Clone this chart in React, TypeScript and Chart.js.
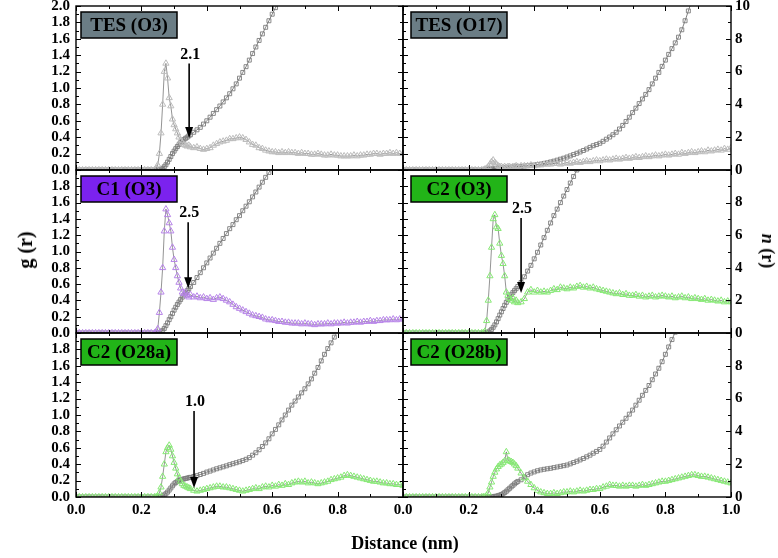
import React, { useEffect, useRef } from 'react';
import { Chart, registerables } from 'chart.js';
Chart.register(...registerables);

// Distance grid (nm)
const R = [
  0, 0.01, 0.02, 0.03, 0.04, 0.05, 0.06, 0.07, 0.08, 0.09,
  0.1, 0.11, 0.12, 0.13, 0.14, 0.15, 0.16, 0.17, 0.18, 0.19,
  0.2, 0.21, 0.22, 0.23, 0.24,
  0.245, 0.25, 0.255, 0.26, 0.265, 0.27, 0.275, 0.28, 0.285, 0.29, 0.295,
  0.3, 0.305, 0.31, 0.315, 0.32, 0.325, 0.33, 0.335, 0.34, 0.345, 0.35,
  0.36, 0.37, 0.38, 0.39, 0.4, 0.41, 0.42, 0.43, 0.44, 0.45,
  0.46, 0.47, 0.48, 0.49, 0.5, 0.51, 0.52, 0.53, 0.54, 0.55,
  0.56, 0.57, 0.58, 0.59, 0.6, 0.61, 0.62, 0.63, 0.64, 0.65,
  0.66, 0.67, 0.68, 0.69, 0.7, 0.71, 0.72, 0.73, 0.74, 0.75,
  0.76, 0.77, 0.78, 0.79, 0.8, 0.81, 0.82, 0.83, 0.84, 0.85,
  0.86, 0.87, 0.88, 0.89, 0.9, 0.91, 0.92, 0.93, 0.94, 0.95,
  0.96, 0.97, 0.98, 0.99, 1.0,
];

// TES (O3)
const G_TES_O3 = [
  0,0,0,0,0, 0,0,0,0,0, 0,0,0,0,0, 0,0,0,0,0, 0,0,0,0,0,
  0.02,0.06,0.2,0.45,0.8,1.2,1.3,1.12,0.88,0.78,0.62,0.55,0.5,0.45,0.4,0.36,0.33,0.31,0.3,0.29,0.3,0.28,
  0.27,0.28,0.26,0.25,0.26,0.27,0.3,0.32,0.34,0.35,
  0.36,0.38,0.38,0.39,0.4,0.39,0.37,0.34,0.31,0.3,
  0.27,0.26,0.24,0.23,0.22,0.22,0.21,0.22,0.21,0.22,
  0.21,0.21,0.2,0.21,0.2,0.2,0.19,0.19,0.2,0.19,
  0.18,0.18,0.19,0.18,0.18,0.17,0.17,0.17,0.17,0.18,
  0.17,0.18,0.18,0.19,0.19,0.2,0.2,0.19,0.2,0.2,
  0.21,0.2,0.21,0.2,0.2,
];
const N_TES_O3 = [
  0,0,0,0,0, 0,0,0,0,0, 0,0,0,0,0, 0,0,0,0,0, 0,0,0,0,0,
  0,0,0.02,0.05,0.1,0.2,0.32,0.48,0.65,0.82,1.0,1.15,1.3,1.43,1.55,1.66,1.76,1.85,1.93,2.0,2.08,2.15,
  2.3,2.45,2.6,2.8,3.0,3.22,3.45,3.68,3.9,4.15,
  4.4,4.65,4.95,5.25,5.6,5.95,6.3,6.7,7.1,7.5,
  7.9,8.3,8.7,9.1,9.5,9.9,10.3,
];

// TES (O17)
const G_TES_O17 = [
  0,0,0,0,0, 0,0,0,0,0, 0,0,0,0,0, 0,0,0,0,0, 0,0,0,0,0,
  0,0.01,0.02,0.04,0.07,0.1,0.12,0.09,0.07,0.05,0.04,0.04,0.03,0.04,0.03,0.04,0.04,0.03,0.04,0.04,0.05,0.04,
  0.05,0.05,0.05,0.06,0.05,0.06,0.06,0.07,0.07,0.07,
  0.08,0.08,0.07,0.08,0.09,0.08,0.09,0.1,0.09,0.1,
  0.11,0.1,0.11,0.12,0.11,0.12,0.13,0.12,0.13,0.14,
  0.13,0.14,0.15,0.14,0.15,0.16,0.15,0.16,0.17,0.16,
  0.17,0.18,0.17,0.18,0.19,0.18,0.19,0.2,0.19,0.21,
  0.2,0.21,0.22,0.21,0.22,0.23,0.22,0.24,0.23,0.24,
  0.25,0.24,0.26,0.25,0.27,
];
const N_TES_O17 = [
  0,0,0,0,0, 0,0,0,0,0, 0,0,0,0,0, 0,0,0,0,0, 0,0,0,0,0,
  0,0.02,0.04,0.05,0.06,0.07,0.08,0.09,0.1,0.1,0.11,0.12,0.12,0.13,0.14,0.15,0.16,0.17,0.18,0.19,0.2,0.21,
  0.22,0.24,0.26,0.28,0.3,0.33,0.36,0.4,0.44,0.49,
  0.54,0.6,0.66,0.72,0.79,0.86,0.94,1.02,1.1,1.19,
  1.28,1.38,1.48,1.55,1.63,1.75,1.88,2.01,2.15,2.3,
  2.5,2.72,2.96,3.22,3.5,3.77,4.05,4.33,4.61,4.9,
  5.25,5.6,5.95,6.32,6.7,7.05,7.4,7.75,8.1,8.55,
  9.1,9.7,10.3,
];

// C1 (O3)
const G_C1_O3 = [
  0,0,0,0,0, 0,0,0,0,0, 0,0,0,0,0, 0,0,0,0,0, 0,0,0,0,0,
  0.01,0.05,0.25,0.5,0.8,1.25,1.52,1.45,1.35,1.25,1.05,0.9,0.8,0.7,0.62,0.55,0.5,0.48,0.5,0.46,0.44,0.47,
  0.44,0.45,0.43,0.44,0.42,0.43,0.41,0.43,0.44,0.42,
  0.4,0.38,0.35,0.32,0.3,0.28,0.26,0.24,0.22,0.21,
  0.2,0.19,0.17,0.16,0.16,0.15,0.14,0.14,0.13,0.13,
  0.12,0.12,0.12,0.11,0.12,0.11,0.11,0.1,0.11,0.11,
  0.11,0.12,0.11,0.12,0.12,0.12,0.13,0.12,0.13,0.13,
  0.14,0.13,0.14,0.14,0.15,0.14,0.15,0.15,0.16,0.16,
  0.16,0.17,0.16,0.17,0.17,
];
const N_C1_O3 = [
  0,0,0,0,0, 0,0,0,0,0, 0,0,0,0,0, 0,0,0,0,0, 0,0,0,0,0,
  0,0,0.03,0.08,0.16,0.28,0.45,0.62,0.82,1.0,1.2,1.4,1.58,1.75,1.9,2.05,2.2,2.33,2.46,2.6,2.72,2.85,
  3.1,3.4,3.7,4.0,4.3,4.6,4.9,5.2,5.5,5.8,
  6.1,6.4,6.65,6.95,7.2,7.5,7.78,8.05,8.35,8.65,
  8.95,9.25,9.55,9.85,10.15,
];

// C2 (O3)
const G_C2_O3 = [
  0,0,0,0,0, 0,0,0,0,0, 0,0,0,0,0, 0,0,0,0,0, 0,0,0,0,0,
  0,0.02,0.15,0.4,0.7,1.05,1.4,1.45,1.3,1.28,1.1,0.95,0.85,0.7,0.5,0.46,0.42,0.4,0.43,0.38,0.4,0.37,
  0.38,0.42,0.5,0.53,0.5,0.52,0.5,0.51,0.5,0.52,
  0.54,0.53,0.56,0.55,0.54,0.56,0.55,0.57,0.58,0.56,
  0.57,0.55,0.56,0.54,0.53,0.52,0.51,0.5,0.49,0.48,
  0.49,0.47,0.48,0.46,0.46,0.47,0.45,0.46,0.44,0.45,
  0.46,0.44,0.45,0.46,0.45,0.44,0.45,0.43,0.44,0.45,
  0.43,0.44,0.42,0.43,0.42,0.41,0.42,0.4,0.41,0.4,
  0.39,0.4,0.38,0.39,0.38,
];
const N_C2_O3 = [
  0,0,0,0,0, 0,0,0,0,0, 0,0,0,0,0, 0,0,0,0,0, 0,0,0,0,0,
  0,0,0.02,0.06,0.13,0.22,0.35,0.5,0.68,0.88,1.1,1.3,1.5,1.7,1.88,2.05,2.2,2.35,2.48,2.6,2.72,2.85,
  3.1,3.45,3.8,4.15,4.55,4.95,5.4,5.85,6.3,6.75,
  7.2,7.6,8.0,8.4,8.8,9.2,9.6,10.0,10.4,
];

// C2 (O28a)
const G_C2_O28A = [
  0,0,0,0,0, 0,0,0,0,0, 0,0,0,0,0, 0,0,0,0,0, 0,0,0,0,0,
  0,0.01,0.05,0.12,0.25,0.4,0.55,0.6,0.63,0.58,0.5,0.42,0.35,0.28,0.23,0.19,0.16,0.14,0.13,0.12,0.11,0.1,
  0.08,0.07,0.08,0.09,0.1,0.11,0.12,0.13,0.13,0.12,
  0.12,0.11,0.1,0.09,0.08,0.07,0.08,0.09,0.1,0.11,
  0.1,0.12,0.13,0.12,0.14,0.13,0.15,0.14,0.16,0.15,
  0.17,0.18,0.19,0.18,0.19,0.17,0.18,0.17,0.16,0.17,
  0.18,0.19,0.21,0.22,0.23,0.24,0.26,0.27,0.26,0.25,
  0.24,0.23,0.22,0.21,0.2,0.19,0.19,0.18,0.17,0.17,
  0.16,0.16,0.15,0.15,0.14,
];
const N_C2_O28A = [
  0,0,0,0,0, 0,0,0,0,0, 0,0,0,0,0, 0,0,0,0,0, 0,0,0,0,0,
  0,0,0.01,0.03,0.07,0.13,0.2,0.3,0.42,0.55,0.68,0.8,0.88,0.95,1.0,1.04,1.08,1.1,1.13,1.15,1.18,1.2,
  1.25,1.3,1.37,1.44,1.52,1.58,1.65,1.72,1.78,1.84,
  1.9,1.97,2.03,2.09,2.15,2.22,2.3,2.4,2.55,2.7,
  2.88,3.08,3.3,3.55,3.85,4.12,4.4,4.7,5.0,5.3,
  5.6,5.85,6.1,6.35,6.6,6.9,7.2,7.55,7.9,8.3,
  8.7,9.05,9.4,9.75,10.1,
];

// C2 (O28b)
const G_C2_O28B = [
  0,0,0,0,0, 0,0,0,0,0, 0,0,0,0,0, 0,0,0,0,0, 0,0,0,0,0,
  0,0,0.02,0.05,0.12,0.18,0.25,0.3,0.34,0.37,0.39,0.4,0.42,0.44,0.55,0.45,0.44,0.43,0.42,0.4,0.38,0.35,
  0.29,0.23,0.19,0.15,0.11,0.08,0.06,0.05,0.04,0.04,
  0.05,0.04,0.05,0.06,0.06,0.07,0.06,0.07,0.08,0.07,
  0.08,0.09,0.09,0.1,0.1,0.12,0.13,0.15,0.14,0.14,
  0.13,0.14,0.13,0.14,0.14,0.13,0.14,0.15,0.14,0.15,
  0.16,0.17,0.18,0.19,0.19,0.2,0.21,0.22,0.23,0.24,
  0.25,0.26,0.27,0.27,0.26,0.25,0.25,0.24,0.23,0.22,
  0.21,0.2,0.19,0.18,0.17,
];
const N_C2_O28B = [
  0,0,0,0,0, 0,0,0,0,0, 0,0,0,0,0, 0,0,0,0,0, 0,0,0,0,0,
  0,0,0,0,0,0.01,0.02,0.04,0.05,0.08,0.11,0.15,0.2,0.27,0.35,0.44,0.53,0.62,0.71,0.8,0.88,0.95,
  1.05,1.22,1.36,1.46,1.53,1.6,1.65,1.69,1.72,1.75,
  1.79,1.83,1.87,1.91,1.95,2.02,2.1,2.18,2.26,2.35,
  2.45,2.55,2.67,2.78,2.9,3.1,3.35,3.6,3.85,4.1,
  4.33,4.56,4.8,5.05,5.3,5.6,5.9,6.2,6.5,6.8,
  7.15,7.5,7.85,8.25,8.7,9.15,9.6,10.05,
];

const PANEL_LABELS = ['TES (O3)', 'TES (O17)', 'C1 (O3)', 'C2 (O3)', 'C2 (O28a)', 'C2 (O28b)'];
const PANEL_G = [G_TES_O3, G_TES_O17, G_C1_O3, G_C2_O3, G_C2_O28A, G_C2_O28B];
const PANEL_N = [N_TES_O3, N_TES_O17, N_C1_O3, N_C2_O3, N_C2_O28A, N_C2_O28B];

// Arrow annotations (x in nm, y in g(r) units)
const ARROW_TEXT = ['2.1', '', '2.5', '2.5', '1.0', ''];
const ARROW_X = [0.346, 0, 0.343, 0.36, 0.361, 0];
const ARROW_LABEL_Y = [1.4, 0, 1.48, 1.52, 1.16, 0];
const ARROW_TOP = [1.3, 0, 1.36, 1.41, 1.05, 0];
const ARROW_TIP = [0.39, 0, 0.55, 0.49, 0.11, 0];

// Styles
const BOX_COLORS = ['#6b7d85', '#6b7d85', '#7b22ee', '#22b418', '#22b418', '#22b418'];
const G_MARKER_COLORS = ['#bcbcbc', '#bcbcbc', '#b784e8', '#86e874', '#86e874', '#86e874'];

const W = 778;
const H = 558;
const M = 30;
const COL_LEFT = [76, 403];
const COL_RIGHT = [403, 731];
const ROW_TOP = [6, 170, 333];
const ROW_BOTTOM = [170, 333, 497];
const FONT = '"Liberation Serif", "Times New Roman", serif';

function toPoints(arr: (number | null)[]) {
  const pts: { x: number; y: number | null }[] = [];
  for (let i = 0; i < arr.length && i < R.length; i++) pts.push({ x: R[i], y: arr[i] });
  return pts;
}

function makeDecor(idx: number) {
  const col = idx % 2;
  return {
    id: 'decor' + idx,
    afterDatasetsDraw(chart: any) {
      const { ctx, chartArea: a, scales } = chart;
      const xs = scales.x;
      const ys = scales.y;
      const ys1 = scales.y1;
      ctx.save();
      // frame
      ctx.strokeStyle = '#000';
      ctx.lineWidth = 1.4;
      ctx.strokeRect(a.left, a.top, a.right - a.left, a.bottom - a.top);
      // inward ticks
      ctx.lineWidth = 1;
      ctx.beginPath();
      for (let k = 0; k <= 10; k++) {
        const px = Math.round(xs.getPixelForValue(k / 10)) + 0.5;
        const len = k % 2 === 0 ? 5 : 3;
        ctx.moveTo(px, a.top);
        ctx.lineTo(px, a.top + len);
        ctx.moveTo(px, a.bottom);
        ctx.lineTo(px, a.bottom - len);
      }
      for (let k = 0; k <= 20; k++) {
        const py = Math.round(ys.getPixelForValue(k / 10)) + 0.5;
        const len = k % 2 === 0 ? 5 : 3;
        ctx.moveTo(a.left, py);
        ctx.lineTo(a.left + len, py);
      }
      for (let k = 0; k <= 10; k++) {
        const py = Math.round(ys1.getPixelForValue(k)) + 0.5;
        const len = k % 2 === 0 ? 5 : 3;
        ctx.moveTo(a.right, py);
        ctx.lineTo(a.right - len, py);
      }
      ctx.stroke();

      // label box
      const bx = a.left + (col === 0 ? 5 : 8);
      const by = a.top + 6;
      const bw = 96;
      const bh = 26;
      ctx.fillStyle = BOX_COLORS[idx];
      ctx.fillRect(bx, by, bw, bh);
      ctx.lineWidth = 1.5;
      ctx.strokeStyle = '#000';
      ctx.strokeRect(bx, by, bw, bh);
      ctx.fillStyle = '#000';
      ctx.font = 'bold 19px ' + FONT;
      ctx.textAlign = 'center';
      ctx.textBaseline = 'middle';
      ctx.fillText(PANEL_LABELS[idx], bx + bw / 2, by + bh / 2 + 1);

      // arrow
      if (ARROW_TEXT[idx]) {
        const ax = xs.getPixelForValue(ARROW_X[idx]);
        const yTop = ys.getPixelForValue(ARROW_TOP[idx]);
        const yTip = ys.getPixelForValue(ARROW_TIP[idx]);
        const yLab = ys.getPixelForValue(ARROW_LABEL_Y[idx]);
        const head = 11;
        ctx.strokeStyle = '#000';
        ctx.lineWidth = 1.6;
        ctx.beginPath();
        ctx.moveTo(ax, yTop);
        ctx.lineTo(ax, yTip - head + 1);
        ctx.stroke();
        ctx.fillStyle = '#000';
        ctx.beginPath();
        ctx.moveTo(ax - 4, yTip - head);
        ctx.lineTo(ax + 4, yTip - head);
        ctx.lineTo(ax, yTip);
        ctx.closePath();
        ctx.fill();
        ctx.font = 'bold 16px ' + FONT;
        ctx.textAlign = 'center';
        ctx.textBaseline = 'middle';
        ctx.fillText(ARROW_TEXT[idx], ax + 1, yLab);
      }
      ctx.restore();
    },
  };
}

function buildConfig(idx: number): any {
  const row = Math.floor(idx / 2);
  const col = idx % 2;
  const tickFont = { family: FONT, size: 15, weight: 'bold' as const };
  const showX = row === 2;
  const showY = col === 0;
  const showY1 = col === 1;
  const yWidth = COL_LEFT[col] + M;
  const y1Width = W - COL_RIGHT[col] + M;
  const xHeight = H - ROW_BOTTOM[row] + M;
  const grid = { display: false, drawTicks: false };
  return {
    type: 'line',
    data: {
      datasets: [
        {
          data: toPoints(PANEL_G[idx]),
          yAxisID: 'y',
          borderColor: '#666',
          borderWidth: 0.7,
          pointStyle: 'triangle',
          pointRadius: 3.6,
          pointBorderWidth: 1,
          pointBorderColor: G_MARKER_COLORS[idx],
          pointBackgroundColor: 'rgba(255,255,255,0)',
          tension: 0,
          fill: false,
        },
        {
          data: toPoints(PANEL_N[idx]),
          yAxisID: 'y1',
          borderColor: '#4a4a4a',
          borderWidth: 0.7,
          pointStyle: 'rect',
          pointRadius: 2.8,
          pointBorderWidth: 0.9,
          pointBorderColor: '#7c7c7c',
          pointBackgroundColor: 'rgba(255,255,255,0)',
          tension: 0,
          fill: false,
        },
      ],
    },
    options: {
      responsive: false,
      animation: false,
      events: [],
      layout: {
        padding: {
          left: showY ? 0 : yWidth,
          right: showY1 ? 0 : y1Width,
          top: ROW_TOP[row] + M,
          bottom: showX ? 0 : xHeight,
        },
      },
      plugins: { legend: { display: false }, tooltip: { enabled: false } },
      scales: {
        x: {
          type: 'linear',
          min: 0,
          max: 1,
          display: showX,
          afterFit: (s: any) => { s.height = showX ? xHeight : 0; },
          grid,
          border: { display: false },
          ticks: {
            stepSize: 0.2,
            autoSkip: false,
            maxRotation: 0,
            minRotation: 0,
            padding: 4,
            color: '#000',
            font: tickFont,
            callback: (v: any) => (col === 0 && Math.abs(v - 1) < 1e-9 ? '' : Number(v).toFixed(1)),
          },
        },
        y: {
          type: 'linear',
          position: 'left',
          min: 0,
          max: 2,
          display: showY,
          afterFit: (s: any) => { s.width = showY ? yWidth : 0; },
          grid,
          border: { display: false },
          ticks: {
            stepSize: 0.2,
            autoSkip: false,
            padding: 6,
            color: '#000',
            font: tickFont,
            callback: (v: any) => (row > 0 && Math.abs(v - 2) < 1e-9 ? '' : Number(v).toFixed(1)),
          },
        },
        y1: {
          type: 'linear',
          position: 'right',
          min: 0,
          max: 10,
          display: showY1,
          afterFit: (s: any) => { s.width = showY1 ? y1Width : 0; },
          grid,
          border: { display: false },
          ticks: {
            stepSize: 2,
            autoSkip: false,
            padding: 4,
            color: '#000',
            font: tickFont,
            callback: (v: any) => (row > 0 && Math.abs(v - 10) < 1e-9 ? '' : String(Math.round(v))),
          },
        },
      },
    },
    plugins: [makeDecor(idx)],
  };
}

export default function App() {
  const refs = useRef<(HTMLCanvasElement | null)[]>([]);

  useEffect(() => {
    const charts: Chart[] = [];
    for (let i = 0; i < 6; i++) {
      const c = refs.current[i];
      if (!c) continue;
      charts.push(new Chart(c, buildConfig(i)));
    }
    return () => charts.forEach((ch) => ch.destroy());
  }, []);

  const labelBase: React.CSSProperties = {
    position: 'absolute',
    fontFamily: FONT,
    fontWeight: 'bold',
    color: '#000',
    whiteSpace: 'nowrap',
    lineHeight: 1,
  };

  return (
    <div style={{ position: 'fixed', left: 0, top: 0, width: W, height: H, overflow: 'hidden', background: '#fff' }}>
      {[0, 1, 2, 3, 4, 5].map((i) => (
        <canvas
          key={i}
          ref={(el) => { refs.current[i] = el; }}
          width={W + 2 * M}
          height={H + 2 * M}
          style={{ position: 'absolute', left: -M, top: -M, width: W + 2 * M, height: H + 2 * M }}
        />
      ))}
      <div style={{ ...labelBase, left: 25, top: 250, fontSize: 20, transform: 'translate(-50%, -50%) rotate(-90deg)' }}>
        g (r)
      </div>
      <div style={{ ...labelBase, left: 768, top: 251, fontSize: 18, transform: 'translate(-50%, -50%) rotate(90deg)' }}>
        <i>n</i> (r)
      </div>
      <div style={{ ...labelBase, left: 405, top: 543, fontSize: 18, transform: 'translate(-50%, -50%)' }}>
        Distance (nm)
      </div>
    </div>
  );
}
